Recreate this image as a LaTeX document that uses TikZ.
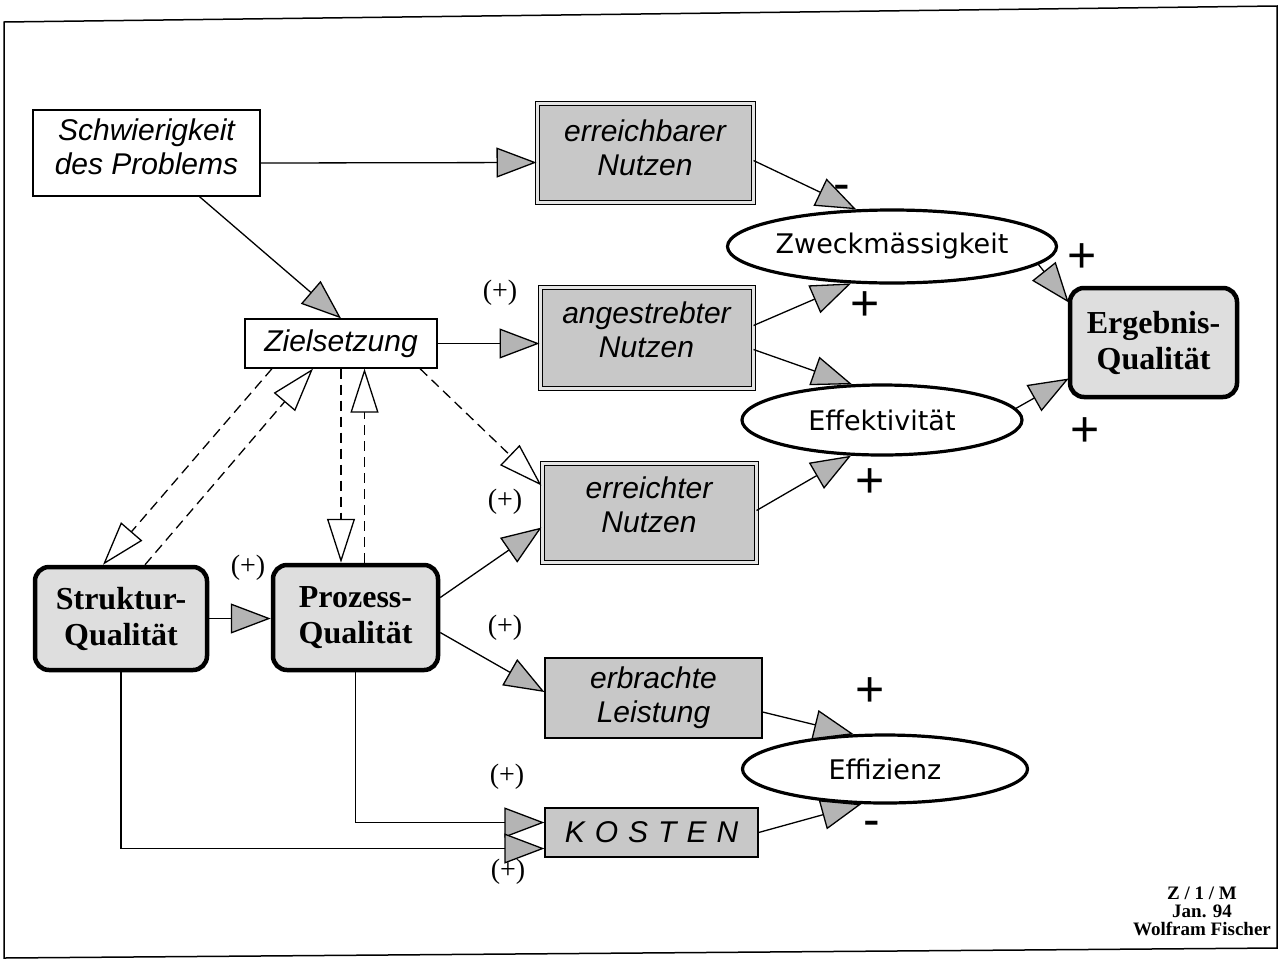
\documentclass[tikz,border=0pt]{standalone}
\usepackage{fontspec}
\setmainfont{Liberation Serif}
\newfontfamily\arialfont{Liberation Sans}
\newfontfamily\handfont{DejaVu Sans}
\usetikzlibrary{arrows.meta,shapes.geometric,calc}
\definecolor{boxgray}{HTML}{C8C8C8}
\definecolor{gapgray}{HTML}{E4E4E4}
\definecolor{qualgray}{HTML}{DEDEDE}
\definecolor{tipgray}{HTML}{B4B4B4}
\tikzset{
  lbl/.style={font=\arialfont\itshape\fontsize{30}{34}\selectfont, align=center, inner sep=0pt},
  whitebox/.style={lbl, draw, line width=1.3pt, fill=white, rectangle},
  dblbox/.style={lbl, draw, line width=1pt, double=gapgray, double distance=3pt, fill=boxgray, rectangle},
  graybox/.style={lbl, draw, line width=1.2pt, fill=boxgray, rectangle},
  qualbox/.style={draw, line width=4.5pt, rounded corners=14pt, fill=qualgray,
    font=\bfseries\fontsize{32}{36}\selectfont, align=center, inner sep=0pt},
  measure/.style={ellipse, draw, line width=3.2pt, fill=white, inner sep=0pt,
    font=\handfont\fontsize{27}{30}\selectfont},
  conn/.style={line width=1.3pt, -{Triangle[length=40pt,width=30pt,fill=tipgray]}},
  dconn/.style={line width=1.3pt, dash pattern=on 10pt off 6pt,
    -{Triangle[length=44pt,width=28pt,fill=white]}},
  paren/.style={font=\fontsize{28}{30}\selectfont, inner sep=0pt},
  sign/.style={font=\arialfont\fontsize{50}{50}\selectfont, inner sep=0pt},
}
\begin{document}
\begin{tikzpicture}[x=1pt,y=-1pt]
\useasboundingbox (0,0) rectangle (1284,967);
% page frame
\draw[line width=1.5pt] (4,22) -- (1277,6) -- (1277,948) -- (4,958) -- cycle;

% boxes
\node[whitebox, text depth=12pt, minimum width=227pt, minimum height=86pt] (schw) at (146.5,153) {Schwierigkeit\\des Problems};
\node[dblbox, text depth=10pt, minimum width=216pt, minimum height=99pt] (erb) at (645,152.5) {erreichbarer\\Nutzen};
\node[dblbox, text depth=15pt, minimum width=213pt, minimum height=101pt] (ang) at (646.5,337.5) {angestrebter\\Nutzen};
\node[dblbox, text depth=15pt, minimum width=214pt, minimum height=99pt] (erc) at (649,512.5) {erreichter\\Nutzen};
\node[whitebox, minimum width=192pt, minimum height=49pt] (ziel) at (341,343.5) {Zielsetzung};
\node[graybox, minimum width=217pt, minimum height=80pt] (erbr) at (653.5,698) {erbrachte\\Leistung};
\node[graybox, minimum width=213pt, minimum height=49pt] (kost) at (651.5,832.5)
  {K\kern10pt O\kern10pt S\kern10pt T\kern10pt E\kern10pt N};
\node[qualbox, minimum width=172pt, minimum height=103pt] (struk) at (121,618.5) {Struktur-\\Qualität};
\node[qualbox, minimum width=165pt, minimum height=105pt] (proz) at (355.5,617.5) {Prozess-\\Qualität};
\node[qualbox, minimum width=167pt, minimum height=109pt] (erg) at (1153.5,342.5) {Ergebnis-\\Qualität};
\node[measure, minimum width=280pt, minimum height=73pt] (zweck) at (892,246.5) {Zweckmässigkeit};
\node[measure, minimum width=280pt, minimum height=70pt] (effekt) at (882,420) {Effektivität};
\node[measure, minimum width=285pt, minimum height=68pt] (effiz) at (885,769) {Effizienz};

% solid connectors
\draw[conn] ($(schw.east)+(0,10)$) -- ($(erb.west)+(0,10)$);
\draw[conn] ($(schw.south)+(53,0)$) -- (ziel.north);
\draw[conn] (ziel.east) -- (ziel.east -| ang.west);
\draw[conn] ($(erb.east)+(0,8)$) -- (zweck.134);
\draw[conn] ($(ang.east)+(0,-12)$) -- (zweck.222);
\draw[conn] ($(ang.east)+(0,12)$) -- (effekt.130);
\draw[conn] (zweck.-7) -- ($(erg.west)+(1,-40)$);
\draw[conn] (effekt.5) -- ($(erg.west)+(1,36)$);
\draw[conn] ($(erc.east)+(0,-2)$) -- (effekt.229);
\draw[conn] (struk.east) -- (struk.east -| proz.west);
\draw[conn] ($(proz.east)+(0,-20)$) -- ($(erc.west)+(0,15)$);
\draw[conn] ($(proz.east)+(0,15)$) -- ($(erbr.west)+(0,-6)$);
\draw[conn] ($(erbr.east)+(0,14)$) -- (effiz.132);
\draw[conn] (proz.south) |- ($(kost.west)+(0,-10)$);
\draw[conn] (struk.south) |- ($(kost.west)+(0,16)$);
\draw[conn] (kost.east) -- (effiz.236);

% dashed connectors
\coordinate (d4) at ($(proz.north)+(9,0)$);
\draw[dconn] ($(ziel.south)+(-69,0)$) -- ($(struk.north)+(-18,0)$);
\draw[dconn] ($(struk.north)+(24,0)$) -- ($(ziel.south)+(-28,0)$);
\draw[dconn] (ziel.south) -- (ziel.south |- proz.north);
\draw[dconn] (d4) -- (d4 |- ziel.south);
\draw[dconn] ($(ziel.south)+(79,0)$) -- ($(erc.west)+(0,-27)$);

% polarity labels
\node[paren] (p1) at (500,293) {(+)};
\node[paren] (p2) at (505,502) {(+)};
\node[paren] (p3) at (248,568) {(+)};
\node[paren] (p4) at (505,628) {(+)};
\node[paren] (p5) at (507,777) {(+)};
\node[paren] (p6) at (508,872) {(+)};
\node[sign] (s1) at (842,193) {-};
\node[sign] (s2) at (1082,258) {+};
\node[sign] (s3) at (865,306) {+};
\node[sign] (s4) at (1085,432) {+};
\node[sign] (s5) at (870,483) {+};
\node[sign] (s6) at (870,692) {+};
\node[sign] (s7) at (872,829) {-};

% signature
\node[font=\bfseries\fontsize{19}{18}\selectfont, align=center, inner sep=0pt] (sig) at (1202,911)
  {Z / 1 / M\\Jan. 94\\Wolfram Fischer};
\end{tikzpicture}
\end{document}
